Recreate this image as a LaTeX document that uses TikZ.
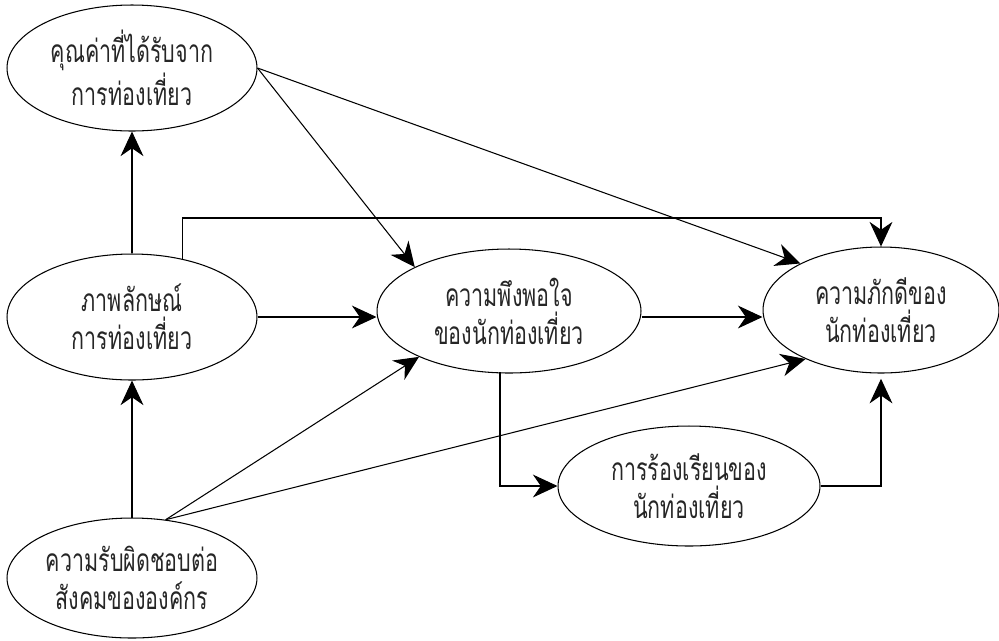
\documentclass[tikz,border=0pt]{standalone}
\usepackage{fontspec}
\newfontfamily\thaifont[Script=Thai, FakeStretch=0.68]{Loma}
\usetikzlibrary{arrows.meta,shapes.geometric}
\tikzset{oval/.style={ellipse, draw, line width=0.6pt, inner sep=0pt, align=center, text=black!85, font=\thaifont\fontsize{18}{21.5}\selectfont},
arr/.style={line width=0.6pt, -{Stealth[length=14pt, width=13pt, inset=4.5pt]}}}

\begin{document}
\begin{tikzpicture}[x=0.02cm, y=-0.02cm]
\useasboundingbox (0,0) rectangle (999,640);
		\node[oval, minimum width=5cm, minimum height=2.52cm] (val) at (132,68) {คุณค่าที่ได้รับจาก\\การท่องเที่ยว};
		\node[oval, minimum width=5cm, minimum height=2.52cm] (img) at (132,317) {ภาพลักษณ์\\การท่องเที่ยว};
		\node[oval, minimum width=5.28cm, minimum height=2.48cm] (sat) at (509,311) {ความพึงพอใจ\\ของนักท่องเที่ยว};
		\node[oval, minimum width=4.72cm, minimum height=2.52cm] (loy) at (881,310) {ความภักดีของ\\นักท่องเที่ยว};
		\node[oval, minimum width=5.24cm, minimum height=2.4cm] (cmp) at (689,486) {การร้องเรียนของ\\นักท่องเที่ยว};
		\node[oval, minimum width=5cm, minimum height=2.4cm] (csr) at (132,578) {ความรับผิดชอบต่อ\\สังคมขององค์กร};
		\coordinate (top) at (881,218);
		\coordinate (satdown) at (500,372);

\draw[arr] (img) -- (val);
\draw[arr] (csr) -- (img);
\draw[arr] (img.east) -- (img.east -| sat.west);
\draw[arr] (sat.east |- img.east) -- (img.east -| loy.west);
\draw[arr] (img.49) |- (top) -- (loy.north);
\draw[arr] (val.east) -- (sat.155);
\draw[arr] (val.east) -- (loy.150);
\draw[arr] (csr.60) -- (sat.207);
\draw[arr] (csr.60) -- (loy.213);
\draw[arr] (satdown) |- (cmp.west);
\draw[arr, shorten >=3pt] (cmp.east) -| (loy.south);
		\end{tikzpicture}
\end{document}
